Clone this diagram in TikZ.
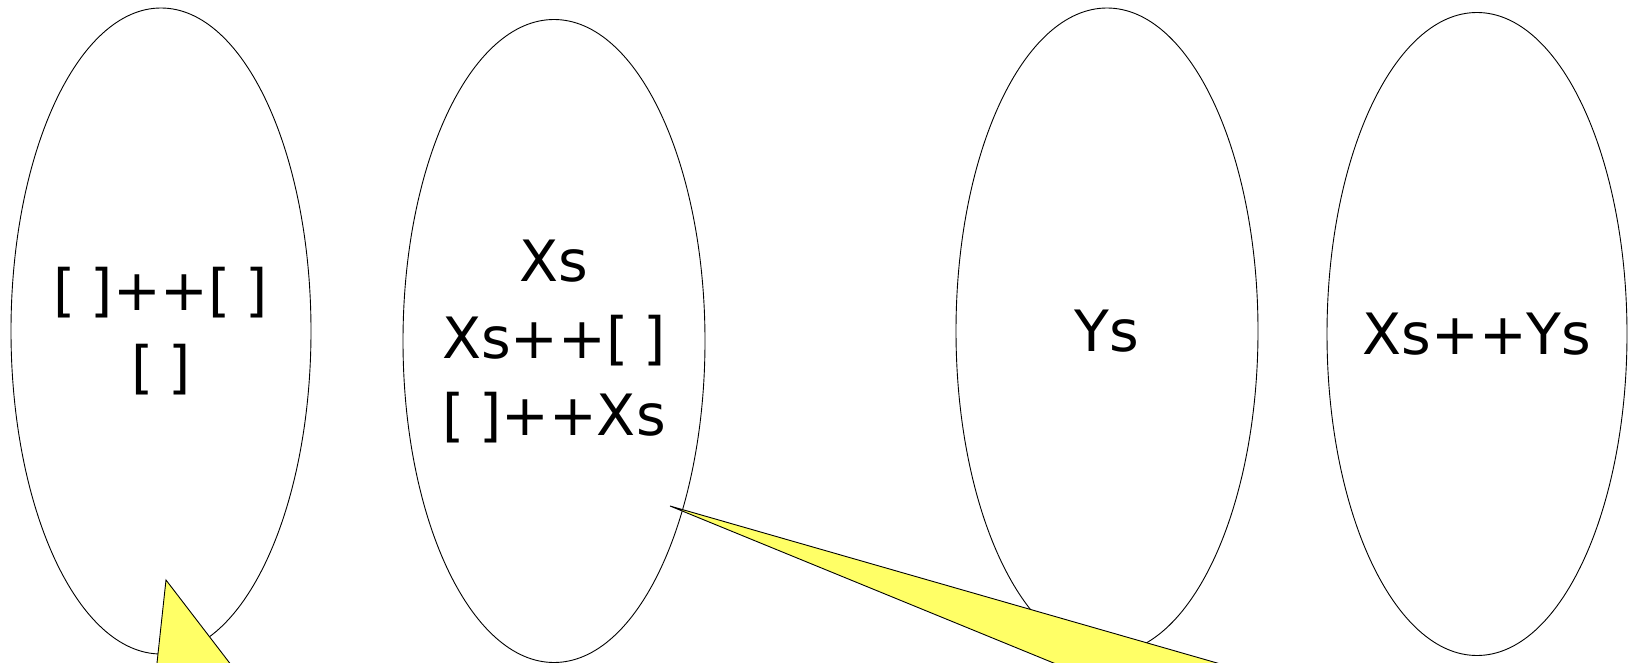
\documentclass[tikz,border=0pt]{standalone}
\usepackage{fontspec}
\setmainfont{DejaVu Sans}
\usepackage{tikz}
\usetikzlibrary{shapes.geometric}
\definecolor{globo}{HTML}{FFFF66}
\newcommand{\hueco}{[\kern0.26em]}

\begin{document}
\begin{tikzpicture}[x=1pt, y=-1pt,
  every node/.style={ellipse, draw, line width=0.9pt, inner xsep=-40pt, inner ysep=0pt, align=center, font=\fontsize{57}{77}\selectfont},
  punta/.style={draw, line width=0.9pt, fill=globo, line join=miter}]
  \useasboundingbox (0,0) rectangle (1628,663);
  \clip (0,0) rectangle (1628,663);

  % Nodos
  \node[minimum width=300pt, minimum height=646pt] (vacias) at (161,331) {\hueco++\hueco\\\hueco};    % Izquierda
  \node[minimum width=302pt, minimum height=643pt] (xs) at (554,341) {Xs\\Xs++\hueco\\\hueco++Xs};     % Centro izquierda
  \node[minimum width=302pt, minimum height=646pt] (ys) at (1107,331) {Ys};                             % Centro derecha
  \node[minimum width=300pt, minimum height=643pt] (xsys) at (1477,334) {Xs++Ys};                        % Derecha

  % Puntas de los globos
  \coordinate (p1) at (166,580);
  \coordinate (p2) at (670,506);
  \draw[punta] (p1) -- (153,700) -- (258,700) -- cycle;
  \draw[punta] (p2) -- (1144,700) -- (1346,700) -- cycle;
\end{tikzpicture}
\end{document}
